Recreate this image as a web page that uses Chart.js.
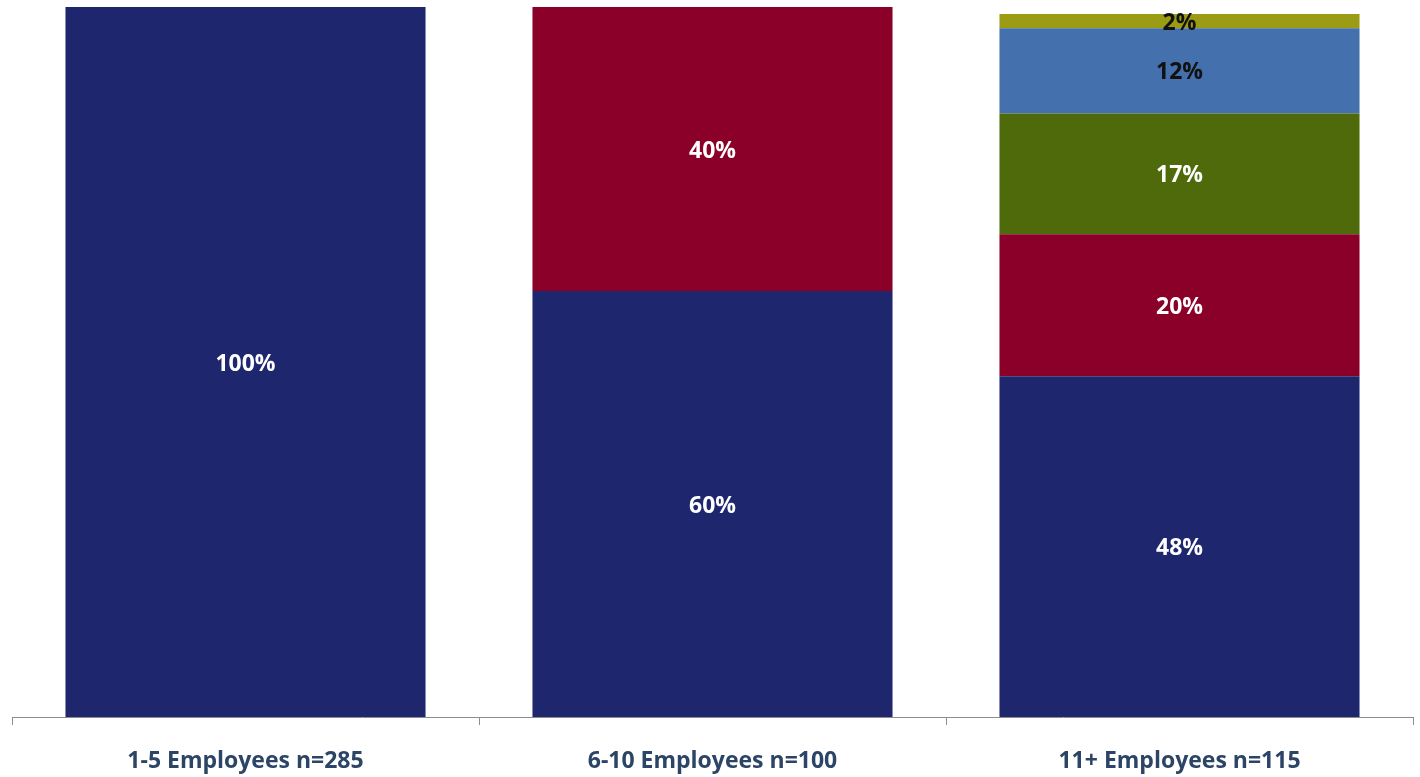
<!DOCTYPE html>
<html>
<head>
<meta charset="utf-8">
<script src="https://cdn.jsdelivr.net/npm/chart.js@4.4.0/dist/chart.umd.min.js"></script>
<style>
  html, body { margin: 0; padding: 0; background: #ffffff; }
  #wrap { width: 1420px; height: 777px; position: relative; }
</style>
</head>
<body>
<div id="wrap"><canvas id="c"></canvas></div>
<script>
const categories = ['1-5 Employees n=285', '6-10 Employees n=100', '11+ Employees n=115'];
const segment1 = [100, 60, 48];
const segment2 = [null, 40, 20];
const segment3 = [null, null, 17];
const segment4 = [null, null, 12];
const segment5 = [null, null, 2];

const segColors = ['#1e276e', '#8a0029', '#4e6a0b', '#4470ae', '#9b9b14'];
const labelColors = ['#ffffff', '#ffffff', '#ffffff', '#111111', '#111111'];

const valueLabels = {
  id: 'valueLabels',
  afterDatasetsDraw(chart) {
    const ctx = chart.ctx;
    ctx.save();
    ctx.font = 'bold 23px "Open Sans", Lato, sans-serif';
    ctx.textAlign = 'center';
    ctx.textBaseline = 'middle';
    chart.data.datasets.forEach((ds, di) => {
      const meta = chart.getDatasetMeta(di);
      meta.data.forEach((bar, i) => {
        const v = ds.data[i];
        if (v === null || v === undefined) return;
        const p = bar.getProps(['x', 'y', 'base'], true);
        ctx.fillStyle = labelColors[di];
        ctx.fillText(v + '%', p.x, (p.y + p.base) / 2 + 2);
      });
    });
    ctx.restore();
  }
};

const seriesList = [segment1, segment2, segment3, segment4, segment5];

new Chart(document.getElementById('c'), {
  type: 'bar',
  data: {
    labels: categories,
    datasets: seriesList.map((d, k) => ({
      label: 'Segment ' + (k + 1),
      data: d,
      backgroundColor: segColors[k],
      borderWidth: 0,
      categoryPercentage: 1.0,
      barPercentage: 0.771
    }))
  },
  options: {
    responsive: true,
    maintainAspectRatio: false,
    animation: false,
    layout: { padding: { left: 12, right: 7, top: 7, bottom: 0 } },
    plugins: { legend: { display: false }, tooltip: { enabled: false } },
    scales: {
      x: {
        stacked: true,
        afterFit: (scale) => { scale.height = 60; },
        border: { display: true, color: '#8c8c8c', width: 1 },
        grid: { display: true, drawOnChartArea: false, drawTicks: true, tickLength: 8, color: '#8c8c8c', offset: true },
        ticks: { color: '#2c4466', padding: 23, maxRotation: 0, font: { family: '"Open Sans", Lato, sans-serif', size: 23, weight: 'bold' } }
      },
      y: {
        stacked: true,
        display: false,
        min: 0,
        max: 100
      }
    }
  },
  plugins: [valueLabels]
});
</script>
</body>
</html>
